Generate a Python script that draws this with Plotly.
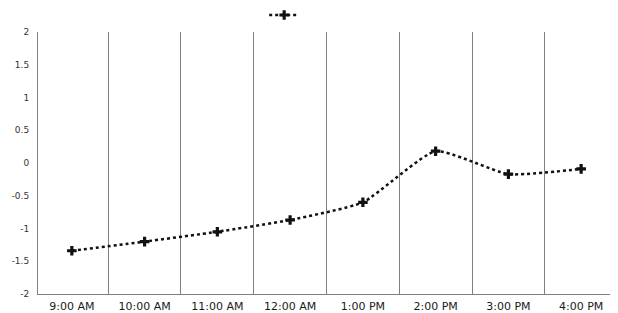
import plotly.graph_objects as go

categories = ["9:00 AM", "10:00 AM", "11:00 AM", "12:00 AM", "1:00 PM", "2:00 PM", "3:00 PM", "4:00 PM"]
values = [-1.34, -1.2, -1.05, -0.87, -0.6, 0.18, -0.17, -0.09]
y_ticks = [-2, -1.5, -1, -0.5, 0, 0.5, 1, 1.5, 2]

fig = go.Figure()
fig.add_trace(go.Scatter(
    x=categories, y=values, mode="lines+markers", name=" ",
    line=dict(color="#111111", width=2.5, dash="dot", shape="spline", smoothing=0.5),
    marker=dict(symbol="cross", size=8, color="#111111"),
    showlegend=True,
))

# page body has an 8px margin, so the figure is sized 8px smaller
fig.update_layout(
    width=610, height=305,
    margin=dict(l=30, r=3, t=24, b=19, autoexpand=False),
    paper_bgcolor="white", plot_bgcolor="white",
    font=dict(family="DejaVu Sans", size=9, color="#333333"),
    showlegend=True,
    legend=dict(orientation="h", x=0.392, xanchor="left", yref="container", y=0.977,
                yanchor="middle", bgcolor="rgba(0,0,0,0)", font=dict(size=8)),
    xaxis=dict(type="category", tickson="boundaries", showgrid=True, gridcolor="#808080",
               gridwidth=1, showline=True, linecolor="#808080", ticks="",
               ticklabelstandoff=2, tickfont=dict(size=11, color="#1a1a1a")),
    yaxis=dict(range=[-2, 2], tickvals=y_ticks, ticktext=[str(v) for v in y_ticks],
               showgrid=False, zeroline=False, showline=True, mirror=True, linecolor="#808080",
               ticks="", ticklabelstandoff=6, tickfont=dict(size=9, color="#333333")),
)

fig.write_html("out.html")
